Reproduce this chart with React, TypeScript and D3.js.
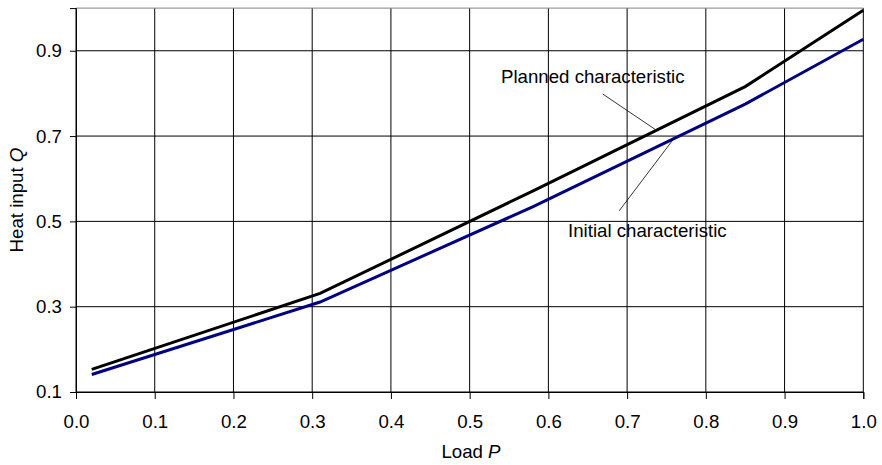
import * as d3 from 'd3';
import { useRef, useEffect } from 'react';

const loadP = [0.02, 0.31, 0.58, 0.85, 1.0];
const planned = [0.153, 0.331, 0.571, 0.816, 0.995];
const initial = [0.141, 0.311, 0.534, 0.775, 0.927];
const xTicks = [0, 0.1, 0.2, 0.3, 0.4, 0.5, 0.6, 0.7, 0.8, 0.9, 1.0];
const yTicks = [0.1, 0.3, 0.5, 0.7, 0.9];

const App = () => {
  const svgRef = useRef<SVGSVGElement>(null);

  useEffect(() => {
    const svg = d3.select(svgRef.current);
    const width = 882;
    const height = 465;
    const margin = { top: 8.1, right: 18.7, bottom: 73, left: 76 };
    const font = '18.67px "Liberation Sans", Arial, sans-serif';

    svg.attr('width', width).attr('height', height);
    svg.selectAll('*').remove();

    const x = d3.scaleLinear().domain([0, 1]).range([margin.left, width - margin.right]);
    const y = d3.scaleLinear().domain([0.1, 1.0]).range([height - margin.bottom, margin.top]);

    // grid
    svg.append('g')
      .selectAll('line')
      .data(xTicks)
      .enter().append('line')
      .attr('x1', d => x(d)).attr('x2', d => x(d))
      .attr('y1', y(1.0)).attr('y2', y(0.1))
      .attr('stroke', '#000').attr('stroke-width', 1);

    svg.append('g')
      .selectAll('line')
      .data(yTicks)
      .enter().append('line')
      .attr('x1', x(0)).attr('x2', x(1))
      .attr('y1', d => y(d)).attr('y2', d => y(d))
      .attr('stroke', '#000').attr('stroke-width', 1);

    // top border of plot area
    svg.append('line')
      .attr('x1', x(0)).attr('x2', x(1))
      .attr('y1', y(1.0)).attr('y2', y(1.0))
      .attr('stroke', '#808080').attr('stroke-width', 1);

    const xAxisG = svg.append('g')
      .attr('transform', `translate(0,${y(0.1)})`)
      .call(d3.axisBottom(x).tickValues(xTicks).tickFormat(d3.format('.1f')).tickSize(7).tickPadding(16));
    xAxisG.select('.domain').attr('stroke', '#000');
    xAxisG.selectAll('text').style('font', font).attr('fill', '#000');

    const yAxisG = svg.append('g')
      .attr('transform', `translate(${x(0)},0)`)
      .call(d3.axisLeft(y).tickValues(yTicks).tickFormat(d3.format('.1f')).tickSize(6).tickPadding(8));
    yAxisG.select('.domain').attr('stroke', '#000');
    yAxisG.selectAll('text').style('font', font).attr('fill', '#000');

    // series
    const line = d3.line<number>()
      .x((d, i) => x(loadP[i]))
      .y(d => y(d));

    svg.append('path')
      .datum(initial)
      .attr('fill', 'none')
      .attr('stroke', '#000080')
      .attr('stroke-width', 3)
      .attr('d', line);

    svg.append('path')
      .datum(planned)
      .attr('fill', 'none')
      .attr('stroke', '#000')
      .attr('stroke-width', 3)
      .attr('d', line);

    // annotations
    svg.append('text')
      .attr('x', 501).attr('y', 83)
      .style('font', font)
      .text('Planned characteristic');
    svg.append('line')
      .attr('x1', 602.7).attr('y1', 94)
      .attr('x2', 655).attr('y2', 129.3)
      .attr('stroke', '#000').attr('stroke-width', 0.8);

    svg.append('text')
      .attr('x', 568).attr('y', 237)
      .style('font', font)
      .text('Initial characteristic');
    svg.append('line')
      .attr('x1', 619.3).attr('y1', 210.7)
      .attr('x2', 673.3).attr('y2', 139.3)
      .attr('stroke', '#000').attr('stroke-width', 0.8);

    // axis titles
    const xt = svg.append('text')
      .attr('x', 471).attr('y', 458)
      .attr('text-anchor', 'middle')
      .style('font', font);
    xt.append('tspan').text('Load ');
    xt.append('tspan').style('font-style', 'italic').text('P');

    const yt = svg.append('text')
      .attr('transform', `translate(23,200) rotate(-90)`)
      .attr('text-anchor', 'middle')
      .style('font', font);
    yt.append('tspan').text('Heat input ');
    yt.append('tspan').style('font-style', 'italic').text('Q');
  }, []);

  return (
    <div>
      <svg ref={svgRef} style={{ position: 'absolute', left: 0, top: 0, background: '#fff' }}></svg>
    </div>
  );
};

export default App;
